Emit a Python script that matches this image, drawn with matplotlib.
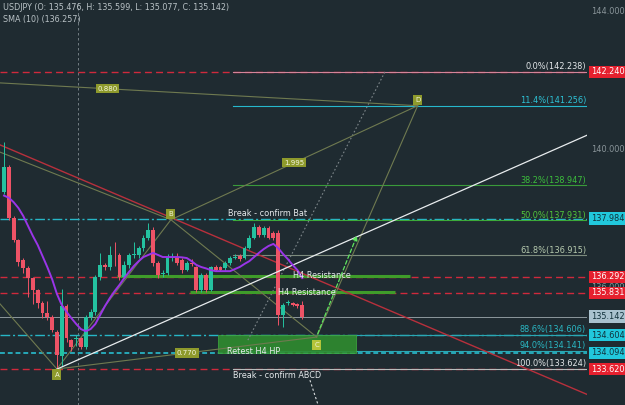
import matplotlib
matplotlib.use("Agg")
import matplotlib.pyplot as plt
import matplotlib.transforms as mtransforms
from matplotlib.patches import Rectangle, FancyArrowPatch
import numpy as np

# ---- candle data (bar index 0..62) ----
opens = [138.75, 139.48, 138.00, 137.36, 136.78, 136.55, 136.26, 135.91, 135.54, 135.25,
         135.13, 134.70, 134.00, 135.45, 134.46, 134.49, 134.52, 134.26, 135.13, 135.28,
         136.29, 136.64, 136.58, 136.93, 136.93, 136.29, 136.64, 136.93, 136.93, 137.13,
         137.42, 137.65, 136.70, 136.38, 136.41, 136.84, 136.84, 136.78, 136.49, 136.70,
         136.58, 135.91, 136.35, 135.91, 136.58, 136.58, 136.55, 136.70, 136.84, 136.90,
         136.84, 137.13, 137.42, 137.74, 137.51, 137.71, 137.57, 137.57, 135.19, 135.54,
         135.54, 135.50, 135.476]
highs = [140.20, 139.55, 138.05, 137.40, 136.85, 136.60, 136.30, 135.95, 135.60, 135.60,
         135.20, 134.75, 135.95, 135.50, 134.50, 134.60, 134.56, 135.20, 135.35, 136.35,
         137.00, 136.70, 137.20, 137.30, 137.00, 136.75, 137.00, 137.30, 137.20, 137.50,
         137.85, 137.75, 136.75, 136.50, 136.95, 137.00, 137.00, 136.85, 136.75, 136.80,
         136.62, 136.40, 136.40, 136.62, 136.65, 136.62, 136.75, 136.90, 136.95, 136.95,
         137.18, 137.50, 137.85, 137.80, 137.78, 137.76, 137.62, 137.65, 135.55, 135.62,
         135.58, 135.55, 135.599]
lows = [138.70, 137.94, 137.30, 136.60, 136.40, 135.70, 135.50, 135.40, 135.10, 135.05,
        134.70, 133.624, 133.70, 134.40, 134.15, 134.30, 134.20, 134.20, 135.05, 135.20,
        136.20, 136.50, 136.50, 136.60, 136.20, 136.25, 136.55, 136.85, 136.85, 137.05,
        137.35, 136.60, 136.25, 136.30, 136.35, 136.75, 136.65, 136.40, 136.45, 136.60,
        135.85, 135.85, 135.85, 135.88, 136.45, 136.45, 136.50, 136.65, 136.80, 136.75,
        136.80, 137.10, 137.38, 137.45, 137.45, 137.38, 137.35, 134.90, 134.85, 135.48,
        135.45, 135.40, 135.077]
closes = [139.48, 138.00, 137.36, 136.73, 136.55, 136.26, 135.91, 135.54, 135.25, 135.13,
          134.75, 134.03, 135.45, 134.52, 134.26, 134.50, 134.26, 135.13, 135.28, 136.29,
          136.64, 136.58, 136.93, 136.92, 136.29, 136.64, 136.93, 136.95, 137.13, 137.42,
          137.65, 136.70, 136.35, 136.41, 136.84, 136.85, 136.70, 136.49, 136.70, 136.68,
          135.91, 136.35, 135.91, 136.58, 136.50, 136.50, 136.70, 136.84, 136.86, 136.80,
          137.13, 137.42, 137.74, 137.51, 137.71, 137.42, 137.42, 135.19, 135.48, 135.55,
          135.48, 135.45, 135.142]
sma10 = [138.65, 138.59, 138.46, 138.29, 138.06, 137.77, 137.48, 137.22, 136.90, 136.58,
         136.23, 135.80, 135.48, 135.28, 135.10, 134.93, 134.78, 134.72, 134.78, 134.93,
         135.19, 135.45, 135.68, 135.88, 136.06, 136.26, 136.44, 136.61, 136.75, 136.87,
         136.93, 136.99, 136.93, 136.87, 136.87, 136.87, 136.87, 136.86, 136.84, 136.75,
         136.64, 136.58, 136.54, 136.49, 136.46, 136.46, 136.46, 136.46, 136.52, 136.58,
         136.67, 136.75, 136.87, 136.99, 137.10, 137.19, 137.25, 137.13, 136.96, 136.81,
         136.64, 136.49, 136.26]

# ---- horizontal levels ----
red_levels = [142.240, 136.292, 135.831, 133.620]
cyan_levels = [137.984, 134.604]
cyan_dot_level = 134.094
last_price = 135.142

fib_pct = ["0.0%", "11.4%", "38.2%", "50.0%", "61.8%", "88.6%", "94.0%", "100.0%"]
fib_price = [142.238, 141.256, 138.947, 137.931, 136.915, 134.606, 134.141, 133.624]
fib_line_col = ["#d4849a", "#26b8cc", "#3a9a3a", "#3caa3a", "#7d8c7e", "#2aa8b4", "#2aa8b4", "#b8bcbc"]
fib_text_col = ["#e4e8ea", "#2ec4d8", "#3cbf3c", "#52c83a", "#b8ccb0", "#2ab8c4", "#2ab8c4", "#e4e8ea"]
fib_start = 47.6

# ---- XABCD pattern (bar index, price) ----
pat_names = ["X", "A", "B", "C", "D"]
pat_x = [-43.0, 11.0, 34.7, 65.0, 86.0]
pat_y = [142.238, 133.624, 137.95, 134.55, 141.256]
ratio_labels = ["0.880", "1.995", "0.770"]

# trend lines
red_trend_x = [-1.0, 122.0]
red_trend_y = [140.13, 132.84]
white_trend_x = [11.0, 121.2]
white_trend_y = [133.62, 140.40]
dotted_x = [50.7, 79.2]
dotted_y = [134.46, 142.24]
arrow_x = [65.0, 73.6]
arrow_y = [134.57, 137.57]

# H4 resistance lines
h4_x0 = [23.5, 38.7]
h4_x1 = [84.4, 81.3]
h4_y = [136.33, 135.855]

BG = "#1f2b31"
UP = "#24c2a0"
DN = "#ee5366"

fig = plt.figure(figsize=(6.25, 4.05), dpi=100, facecolor=BG)
ax = fig.add_axes([0, 0, 587 / 625, 1])
ax.set_facecolor(BG)
ax.set_xlim(-0.83, 121.2)
ax.set_ylim(132.58, 144.32)
ax.axis("off")

idx = np.arange(len(opens))
o = np.array(opens); c = np.array(closes)
h = np.array(highs); l = np.array(lows)
cols = [UP if cc >= oo else DN for oo, cc in zip(o, c)]

# crosshair
ax.axvline(15.4, color="#7f8a8f", lw=0.6, dashes=(3, 3), zorder=1)

# horizontal rays
for lv in red_levels:
    ax.axhline(lv, color="#cf2a3c", lw=1.0, dashes=(5, 3), zorder=1)
for lv in cyan_levels:
    ax.axhline(lv, color="#27b6c6", lw=1.0, dashes=(7, 2, 1.5, 2), zorder=1)
ax.axhline(cyan_dot_level, color="#27a8b8", lw=1.4, dashes=(2.5, 1.5), zorder=1)
ax.axhline(last_price, color="#8d989d", lw=0.7, zorder=1)

# fib levels
for pct, pr, lc, tc in zip(fib_pct, fib_price, fib_line_col, fib_text_col):
    ax.plot([fib_start, 121.2], [pr, pr], color=lc, lw=0.8, zorder=2)
    ax.text(121.0, pr + 0.02, f"{pct}({pr:.3f})", color=tc, fontsize=5.9,
            ha="right", va="bottom", zorder=6)

# retest box
ax.add_patch(Rectangle((44.5, cyan_dot_level), 73.2 - 44.5, cyan_levels[1] - cyan_dot_level,
                       facecolor="#2f8c2f", edgecolor="#3fa83f", lw=0.6, alpha=0.9, zorder=2))

# H4 resistance
for x0, x1, y in zip(h4_x0, h4_x1, h4_y):
    ax.plot([x0, x1], [y, y], color="#3f9c2a", lw=2.2, zorder=3, solid_capstyle="butt")

# trend lines
ax.plot(red_trend_x, red_trend_y, color="#b8303c", lw=1.0, zorder=3)
ax.plot(white_trend_x, white_trend_y, color="#e8ecee", lw=0.9, zorder=5)
ax.plot(dotted_x, dotted_y, color="#7d868a", lw=0.8, ls=(0, (1.5, 2)), zorder=2)
ax.plot([63.6, 65.3], [133.30, 132.58], color="#d8dcde", lw=0.8, ls=(0, (2, 2)), zorder=2)

# pattern legs
pcol = "#6f7a50"
px, py = pat_x, pat_y
for a, b in [(0, 1), (1, 2), (2, 3), (3, 4), (0, 2), (1, 3), (2, 4), (0, 4)]:
    ax.plot([px[a], px[b]], [py[a], py[b]], color=pcol, lw=0.8, zorder=3)

# candles
ax.vlines(idx, l, h, colors=cols, lw=0.7, zorder=4)
body_lo = np.minimum(o, c)
body_h = np.maximum(np.abs(c - o), 0.02)
ax.bar(idx, body_h, bottom=body_lo, width=0.8, color=cols, lw=0, zorder=4)

# SMA
ax.plot(idx, sma10, color="#9a35e8", lw=1.4, zorder=5)

# arrow C -> target
ax.add_patch(FancyArrowPatch((arrow_x[0], arrow_y[0]), (arrow_x[1], arrow_y[1]),
                             arrowstyle="-|>", mutation_scale=7, color="#5fe65f",
                             lw=0.9, ls=(0, (3, 2)), zorder=6))

# pattern point labels
box = dict(boxstyle="square,pad=0.25", fc="#8e9a2c", ec="none")
offs = {"A": -4, "B": 4, "C": -6, "D": 4}
for name, x, y in zip(pat_names, pat_x, pat_y):
    if name == "X":
        continue
    fc = "#b4c43a" if name == "C" else "#8e9a2c"
    ax.annotate(name, (x, y), xytext=(0, offs[name]), textcoords="offset points",
                ha="center", va="center", fontsize=5, color="#f2f4dc",
                bbox=dict(boxstyle="square,pad=0.3", fc=fc, ec="none"), zorder=7)
for lab, (a, b) in zip(ratio_labels, [(0, 4), (2, 4), (1, 3)]):
    ax.text((px[a] + px[b]) / 2, (py[a] + py[b]) / 2, lab, fontsize=5, color="#f2f4dc",
            ha="center", va="center", bbox=box, zorder=7)

# annotations
tcol = "#e6eaec"
ax.text(46.6, 138.0, "Break - confirm Bat", color=tcol, fontsize=5.9, va="bottom", zorder=7)
ax.text(47.6, 133.56, "Break - confirm ABCD", color=tcol, fontsize=5.9, va="top", zorder=7)
ax.text(60.1, 136.33, "H4 Resistance", color=tcol, fontsize=5.9, va="center", zorder=7)
ax.text(57.0, 135.855, "H4 Resistance", color=tcol, fontsize=5.9, va="center", zorder=7)
ax.text(46.4, 134.12, "Retest H4 HP", color=tcol, fontsize=5.9, va="center", zorder=7)

# header
fig.text(0.005, 0.993, "USDJPY (O: 135.476, H: 135.599, L: 135.077, C: 135.142)",
         color="#b9c2c6", fontsize=5.8, va="top")
fig.text(0.005, 0.963, "SMA (10) (136.257)", color="#b9c2c6", fontsize=5.8, va="top")

# right price scale
tr = mtransforms.blended_transform_factory(ax.transAxes, ax.transData)
for v in [144.0, 140.0, 136.0]:
    ax.text(1.007, v, f"{v:.3f}", transform=tr, color="#8a959a", fontsize=5.9,
            va="center", clip_on=False, zorder=1)
tags = [(142.240, "#e5202e", "white"), (137.984, "#21c8dc", "#10303a"),
        (136.292, "#e5202e", "white"), (135.831, "#e5202e", "white"),
        (135.142, "#a9c2cf", "#10303a"), (134.604, "#21c8dc", "#10303a"),
        (134.094, "#21c8dc", "#10303a"), (133.620, "#e5202e", "white")]
for v, fc, tc in tags:
    ax.text(1.007, v, f"{v:.3f}", transform=tr, color=tc, fontsize=5.9, va="center",
            clip_on=False, zorder=8,
            bbox=dict(boxstyle="square,pad=0.2", fc=fc, ec="none"))

fig.savefig("out.png", dpi=100, facecolor=BG)
